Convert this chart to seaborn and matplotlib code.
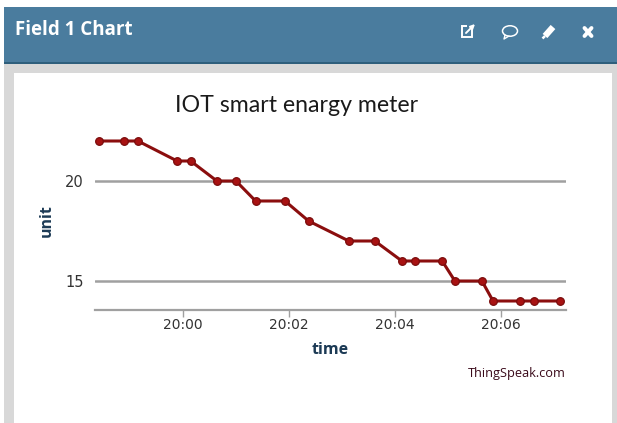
import matplotlib
matplotlib.use('Agg')
import matplotlib.pyplot as plt
from matplotlib.patches import Rectangle, Ellipse
import pandas as pd
import seaborn as sns

# minuten ten opzichte van 20:00
minutes = [-1.585, -1.113, -0.85, -0.11, 0.145, 0.64, 1.0, 1.37, 1.925, 2.37, 3.13,
           3.62, 4.13, 4.38, 4.89, 5.13, 5.64, 5.85, 6.36, 6.62, 7.12]
units = [22, 22, 22, 21, 21, 20, 20, 19, 19, 18, 17,
         17, 16, 16, 16, 15, 15, 14, 14, 14, 14]
x_ticks = [0, 2, 4, 6]
x_labels = ['20:00', '20:02', '20:04', '20:06']
y_ticks = [15, 20]

W, H = 617, 423
BLUE = '#4a7c9e'
NAVY = '#1c3a55'

sns.set_style('white')
plt.rcParams['font.family'] = ['Lato', 'DejaVu Sans']

fig = plt.figure(figsize=(W / 100, H / 100), dpi=100, facecolor='white')

# paneel achtergrond in pixels
bg = fig.add_axes([0, 0, 1, 1], zorder=0)
bg.set_xlim(0, W)
bg.set_ylim(H, 0)
bg.axis('off')
bg.add_patch(Rectangle((4, 64), W - 4, H - 64, color='#d8d8d8', lw=0))
bg.add_patch(Rectangle((14, 73), 598, H - 73, color='white', lw=0))
bg.add_patch(Rectangle((4, 7), W - 4, 57, color=BLUE, lw=0))
bg.add_patch(Rectangle((4, 62.5), W - 4, 1.5, color='#2f5f7c', lw=0))
bg.text(15, 30, 'Field 1 Chart', color='white', fontsize=13.5, fontweight='bold',
        family='Open Sans', va='center', ha='left')

# iconen
bg.add_patch(Rectangle((461.5, 26.5), 10, 11, fill=False, ec='white', lw=1.4))
bg.add_patch(Rectangle((467, 22), 7, 7, color=BLUE, lw=0))
bg.annotate('', xy=(475, 24), xytext=(466, 33),
            arrowprops=dict(arrowstyle='-|>', color='white', lw=1.4, mutation_scale=6,
                            shrinkA=0, shrinkB=0))
bg.add_patch(Ellipse((510, 31), 15, 10.5, fill=False, ec='white', lw=1.1))
bg.plot([505, 504, 509], [35, 39, 36], color='white', lw=1, solid_capstyle='round')
bg.plot([545, 553], [36, 27], color='white', lw=4.5, solid_capstyle='butt')
bg.plot([542.5, 545], [38.5, 36], color='white', lw=1.8, solid_capstyle='butt')
bg.plot([584.5, 591.5], [28, 36], color='white', lw=2.8, solid_capstyle='round')
bg.plot([584.5, 591.5], [36, 28], color='white', lw=2.8, solid_capstyle='round')

# grafiek, as in pixel posities
left, right, top, bottom = 95, 566, 125, 310
ax = fig.add_axes([left / W, 1 - bottom / H, (right - left) / W, (bottom - top) / H], zorder=1)
ax.patch.set_alpha(0)

df = pd.DataFrame({'time': minutes, 'unit': units})
for y in y_ticks:
    ax.axhline(y, color='#a0a0a0', lw=1.8, zorder=1)
sns.lineplot(data=df, x='time', y='unit', ax=ax, color='#8b0e0e', lw=2.2, marker='o',
             markersize=5.5, markeredgecolor='#7a0c0c', markeredgewidth=0.9,
             markerfacecolor='#a81212', zorder=3, errorbar=None)

ax.set_xlim(-1.66, 7.226)
ax.set_ylim(13.55, 22.8)
ax.set_xticks(x_ticks)
ax.set_xticklabels(x_labels, family='DejaVu Sans', fontsize=10, color='#333333')
ax.set_yticks(y_ticks)
ax.set_yticklabels(y_ticks, family='DejaVu Sans', fontsize=10.5, color='#333333')
ax.tick_params(axis='x', length=5, width=1, color='#a0a0a0', pad=1, bottom=True)
ax.tick_params(axis='y', length=0, pad=8)
sns.despine(ax=ax, left=True)
ax.spines['bottom'].set_color('#a0a0a0')
ax.spines['bottom'].set_linewidth(1.6)

ax.set_xlabel('')
ax.set_ylabel('')
bg.text(330, 350, 'time', color=NAVY, fontsize=11.5, fontweight='bold', family='Open Sans',
        ha='center', va='center')
bg.text(47, 221, 'unit', color=NAVY, fontsize=11.5, fontweight='bold', family='Open Sans',
        ha='center', va='center', rotation=90)
bg.text(297, 106, 'IOT smart enargy meter', color='#1a1a1a', fontsize=16.7, ha='center', va='center')
bg.text(566, 373, 'ThingSpeak.com', color='#3a0a1a', fontsize=9.2, family='Open Sans',
        ha='right', va='center')

fig.savefig('out.png', dpi=100)
